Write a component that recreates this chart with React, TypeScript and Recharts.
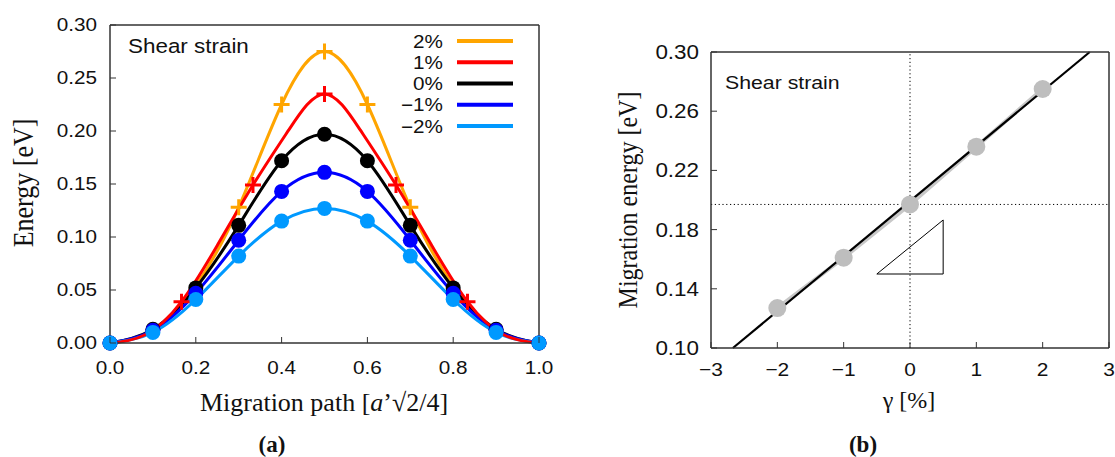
import React from "react";
import { ComposedChart, Line, XAxis, YAxis, ReferenceLine } from "recharts";

// ---------- Panel (a): energy along the migration path ----------
const pathX = [0, 0.1, 0.2, 0.3, 0.4, 0.5, 0.6, 0.7, 0.8, 0.9, 1.0];
const energy0 = [0, 0.013, 0.052, 0.111, 0.172, 0.197, 0.172, 0.111, 0.052, 0.013, 0];
const energyM1 = [0, 0.012, 0.047, 0.097, 0.143, 0.161, 0.143, 0.097, 0.047, 0.012, 0];
const energyM2 = [0, 0.010, 0.041, 0.082, 0.115, 0.127, 0.115, 0.082, 0.041, 0.010, 0];
const energyP2Curve = [0, 0.012, 0.054, 0.128, 0.225, 0.275, 0.225, 0.128, 0.054, 0.012, 0];
const p2MarkX = [0.3, 0.4, 0.5, 0.6, 0.7];
const p2MarkE = [0.128, 0.225, 0.275, 0.225, 0.128];
const p1CurveX = [0, 0.0833, 0.1667, 0.25, 0.3333, 0.4167, 0.5, 0.5833, 0.6667, 0.75, 0.8333, 0.9167, 1.0];
const p1CurveE = [0, 0.008, 0.039, 0.092, 0.149, 0.201, 0.235, 0.201, 0.149, 0.092, 0.039, 0.008, 0];
const p1MarkX = [0.1667, 0.3333, 0.5, 0.6667, 0.8333];
const p1MarkE = [0.039, 0.149, 0.235, 0.149, 0.039];
const strainLabels = ["2%", "1%", "0%", "\u22121%", "\u22122%"];
const strainColors = ["#FFA500", "#FF0000", "#000000", "#0000FF", "#0099FF"];
const pathTicks = [0, 0.2, 0.4, 0.6, 0.8, 1.0];
const energyTicks = [0, 0.05, 0.1, 0.15, 0.2, 0.25, 0.3];

// ---------- Panel (b): migration energy vs shear strain ----------
const gammaPct = [-2, -1, 0, 1, 2];
const migrationE = [0.127, 0.161, 0.197, 0.236, 0.275];
const fitGamma = [-2.67, 2.71];
const fitE = [0.1, 0.3];
const refE = 0.197;
const triGamma = [-0.5, 0.5, 0.5, -0.5];
const triE = [0.15, 0.15, 0.1865, 0.15];
const gammaTicks = [-3, -2, -1, 0, 1, 2, 3];
const migTicks = [0.1, 0.14, 0.18, 0.22, 0.26, 0.3];

const pts = (xs: number[], ys: number[]) => xs.map((x, i) => ({ x, y: ys[i] }));

const SANS = "'Liberation Sans', Arial, Helvetica, sans-serif";
const SERIF = "'Liberation Serif', 'Times New Roman', serif";
const FRAME = "#333";
const TICK_LEN = 6;

const bottomTick = (fmt: (v: number) => string, fs: number, sx: number, dy: number) => (p: any) => {
  const { x, y, payload } = p;
  return (
    <g>
      <line x1={x} y1={y} x2={x} y2={y - TICK_LEN} stroke={FRAME} strokeWidth={1} />
      <text transform={`translate(${x},${y + dy}) scale(${sx},1)`} textAnchor="middle" fontFamily={SANS} fontSize={fs} fill="#111">
        {fmt(payload.value)}
      </text>
    </g>
  );
};
const topTick = (p: any) => {
  const { x, y } = p;
  return <line x1={x} y1={y} x2={x} y2={y + TICK_LEN} stroke={FRAME} strokeWidth={1} />;
};
const leftTick = (fmt: (v: number) => string, fs: number, sx: number, gap: number) => (p: any) => {
  const { x, y, payload } = p;
  return (
    <g>
      <line x1={x} y1={y} x2={x + TICK_LEN} y2={y} stroke={FRAME} strokeWidth={1} />
      <text transform={`translate(${x - gap},${y + fs * 0.358}) scale(${sx},1)`} textAnchor="end" fontFamily={SANS} fontSize={fs} fill="#111">
        {fmt(payload.value)}
      </text>
    </g>
  );
};

const crossDot = (color: string) => (p: any) => {
  const { cx, cy, index } = p;
  if (cx == null || cy == null) return <g key={index} />;
  return (
    <path key={index} d={`M${cx - 8},${cy}H${cx + 8}M${cx},${cy - 8}V${cy + 8}`} stroke={color} strokeWidth={3} fill="none" />
  );
};
const circleDot = (color: string, r: number) => ({ r, fill: color, stroke: "none", strokeWidth: 0 });

const axisLine = { stroke: FRAME, strokeWidth: 1.5 };
const gammaFmt = (v: number) => (v < 0 ? "\u2212" + Math.abs(v) : String(v));

function PanelA() {
  return (
    <ComposedChart width={560} height={400} margin={{ top: 24, right: 20, bottom: 56, left: 109 }}>
      <XAxis xAxisId="b" dataKey="x" type="number" domain={[0, 1]} ticks={pathTicks} interval={0}
        height={1} tickSize={0} tickMargin={0} axisLine={axisLine} tickLine={false}
        tick={bottomTick((v) => v.toFixed(1), 18, 1.15, 31)} />
      <XAxis xAxisId="t" orientation="top" dataKey="x" type="number" domain={[0, 1]} ticks={pathTicks} interval={0}
        height={1} tickSize={0} tickMargin={0} axisLine={axisLine} tickLine={false} tick={topTick} />
      <YAxis yAxisId="l" dataKey="y" type="number" domain={[0, 0.3]} ticks={energyTicks} interval={0}
        width={1} tickSize={0} tickMargin={0} axisLine={axisLine} tickLine={false}
        tick={leftTick((v) => v.toFixed(2), 18, 1.15, 13)} />
      <YAxis yAxisId="r" orientation="right" type="number" domain={[0, 0.3]} width={1} axisLine={axisLine} tick={false} tickLine={false} />

      <Line xAxisId="b" yAxisId="l" data={pts(pathX, energyP2Curve)} dataKey="y" type="natural" stroke={strainColors[0]} strokeWidth={3} dot={false} isAnimationActive={false} />
      <Line xAxisId="b" yAxisId="l" data={pts(pathX, energy0)} dataKey="y" type="natural" stroke={strainColors[2]} strokeWidth={3} dot={false} isAnimationActive={false} />
      <Line xAxisId="b" yAxisId="l" data={pts(pathX, energyM1)} dataKey="y" type="natural" stroke={strainColors[3]} strokeWidth={3} dot={false} isAnimationActive={false} />
      <Line xAxisId="b" yAxisId="l" data={pts(pathX, energyM2)} dataKey="y" type="natural" stroke={strainColors[4]} strokeWidth={3} dot={false} isAnimationActive={false} />

      <Line xAxisId="b" yAxisId="l" data={pts(p2MarkX, p2MarkE)} dataKey="y" stroke="none" dot={crossDot(strainColors[0])} activeDot={false} isAnimationActive={false} />
      <Line xAxisId="b" yAxisId="l" data={pts(pathX, energy0)} dataKey="y" stroke="none" dot={circleDot(strainColors[2], 7.5)} activeDot={false} isAnimationActive={false} />
      <Line xAxisId="b" yAxisId="l" data={pts(pathX, energyM1)} dataKey="y" stroke="none" dot={circleDot(strainColors[3], 7.5)} activeDot={false} isAnimationActive={false} />
      <Line xAxisId="b" yAxisId="l" data={pts(pathX, energyM2)} dataKey="y" stroke="none" dot={circleDot(strainColors[4], 7.5)} activeDot={false} isAnimationActive={false} />

      <Line xAxisId="b" yAxisId="l" data={pts(p1CurveX, p1CurveE)} dataKey="y" type="natural" stroke={strainColors[1]} strokeWidth={3} dot={false} isAnimationActive={false} />
      <Line xAxisId="b" yAxisId="l" data={pts(p1MarkX, p1MarkE)} dataKey="y" stroke="none" dot={crossDot(strainColors[1])} activeDot={false} isAnimationActive={false} />
    </ComposedChart>
  );
}

function PanelB() {
  return (
    <ComposedChart width={555} height={400} margin={{ top: 51, right: 5, bottom: 51, left: 150 }}>
      <XAxis xAxisId="b" dataKey="x" type="number" domain={[-3, 3]} ticks={gammaTicks} interval={0}
        height={1} tickSize={0} tickMargin={0} axisLine={axisLine} tickLine={false}
        tick={bottomTick(gammaFmt, 19, 1.1, 28)} />
      <XAxis xAxisId="t" orientation="top" dataKey="x" type="number" domain={[-3, 3]} ticks={gammaTicks} interval={0}
        height={1} tickSize={0} tickMargin={0} axisLine={axisLine} tickLine={false} tick={topTick} />
      <YAxis yAxisId="l" dataKey="y" type="number" domain={[0.1, 0.3]} ticks={migTicks} interval={0}
        width={1} tickSize={0} tickMargin={0} axisLine={axisLine} tickLine={false}
        tick={leftTick((v) => v.toFixed(2), 19.5, 1.15, 12)} />
      <YAxis yAxisId="r" orientation="right" type="number" domain={[0.1, 0.3]} width={1} axisLine={axisLine} tick={false} tickLine={false} />

      <ReferenceLine xAxisId="b" yAxisId="l" y={refE} stroke="#000" strokeWidth={1} strokeDasharray="1.2 2.6" />
      <ReferenceLine xAxisId="b" yAxisId="l" x={0} stroke="#000" strokeWidth={1} strokeDasharray="1.2 2.6" />

      <Line xAxisId="b" yAxisId="l" data={pts(gammaPct, migrationE)} dataKey="y" type="linear" stroke="#c8c8c8" strokeWidth={4}
        dot={{ r: 9, fill: "#bebebe", stroke: "none", strokeWidth: 0 }} activeDot={false} isAnimationActive={false} />
      <Line xAxisId="b" yAxisId="l" data={pts(fitGamma, fitE)} dataKey="y" type="linear" stroke="#000" strokeWidth={2.2} dot={false} isAnimationActive={false} />
      <Line xAxisId="b" yAxisId="l" data={pts(triGamma, triE)} dataKey="y" type="linear" stroke="#000" strokeWidth={1} dot={false} isAnimationActive={false} />
    </ComposedChart>
  );
}

export default function App() {
  return (
    <div style={{ position: "absolute", left: 0, top: 0, width: 1115, height: 457, background: "#fff", overflow: "hidden" }}>
      <div style={{ position: "absolute", left: 0, top: 0 }}>
        <PanelA />
      </div>
      <div style={{ position: "absolute", left: 560, top: 0 }}>
        <PanelB />
      </div>
      <svg width={1115} height={457} style={{ position: "absolute", left: 0, top: 0, pointerEvents: "none" }}>
        {/* Panel (a) labels */}
        <text transform="translate(128,53) scale(1.15,1)" fontFamily={SANS} fontSize={19.5} fill="#111">Shear strain</text>
        {strainLabels.map((lab, i) => {
          const cy = 41 + i * 21.25;
          return (
            <g key={lab}>
              <text transform={`translate(443,${cy + 6.5}) scale(1.15,1)`} textAnchor="end" fontFamily={SANS} fontSize={18} fill="#111">{lab}</text>
              <line x1={457} y1={cy} x2={513} y2={cy} stroke={strainColors[i]} strokeWidth={4} />
            </g>
          );
        })}
        <text x={324} y={411} textAnchor="middle" fontFamily={SERIF} fontSize={26} fill="#111">
          Migration path [<tspan fontStyle="italic">a</tspan>{"\u2019\u221A2/4]"}
        </text>
        <text transform="translate(33,183) scale(1.15,1) rotate(-90)" textAnchor="middle" fontFamily={SERIF} fontSize={26} fill="#111">Energy [eV]</text>
        <text x={272} y={452} textAnchor="middle" fontFamily={SERIF} fontWeight="bold" fontSize={23} fill="#111">(a)</text>

        {/* Panel (b) labels */}
        <text transform="translate(725,89) scale(1.15,1)" fontFamily={SANS} fontSize={18.5} fill="#111">Shear strain</text>
        <text transform="translate(637,200) scale(1.15,1) rotate(-90)" textAnchor="middle" fontFamily={SERIF} fontSize={24} fill="#111">Migration energy [eV]</text>
        <text x={909} y={408} textAnchor="middle" fontFamily={SERIF} fontSize={24} fill="#111">{"\u03B3 [%]"}</text>
        <text x={863} y={452} textAnchor="middle" fontFamily={SERIF} fontWeight="bold" fontSize={23} fill="#111">(b)</text>
      </svg>
    </div>
  );
}
